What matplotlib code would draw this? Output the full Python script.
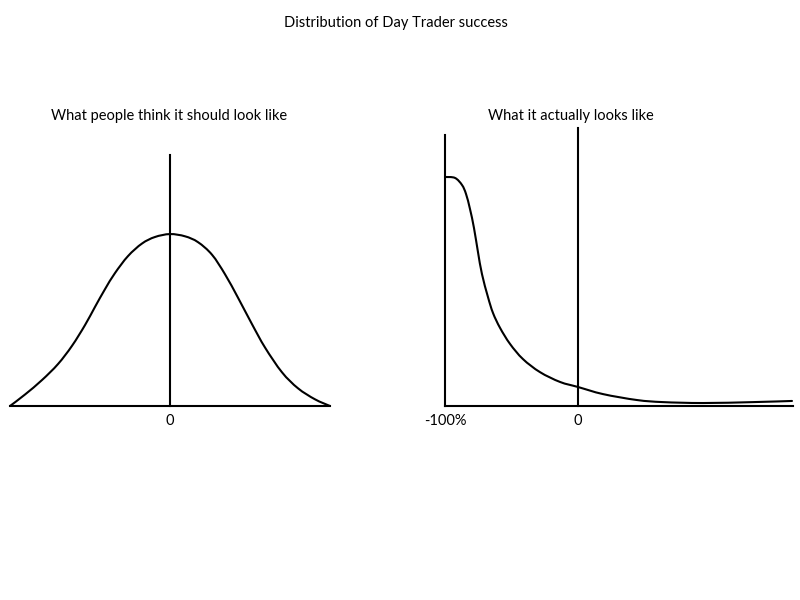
import matplotlib
matplotlib.use("Agg")
import matplotlib.pyplot as plt
from matplotlib.path import Path
from matplotlib.patches import PathPatch

plt.rcParams['font.family'] = ['Lato', 'DejaVu Sans']

# Left panel: "what people think" (normalised x from -1..1, height relative to peak)
left_x = [-1.0, -0.906, -0.8, -0.7, -0.6125, -0.531, -0.469, -0.406, -0.344, -0.2625,
          -0.175, -0.094, 0.0, 0.094, 0.175, 0.2625, 0.344, 0.425, 0.5125, 0.594,
          0.7, 0.8, 0.906, 1.0]
left_y = [0.0, 0.067, 0.151, 0.244, 0.350, 0.471, 0.576, 0.680, 0.773, 0.872,
          0.945, 0.983, 1.0, 0.987, 0.953, 0.880, 0.766, 0.630, 0.476, 0.340,
          0.196, 0.103, 0.039, 0.0]

# Right panel: "what it actually looks like" (x in % return, height relative to peak)
right_x = [-100.0, -92.5, -87.2, -84.2, -81.2, -78.2, -75.2, -72.2, -67.7, -63.9,
           -58.6, -51.1, -41.4, -28.6, -13.5, 0.0, 18.8, 44.4, 63.9, 94.0, 131.6, 160.9]
right_y = [1.000, 0.996, 0.965, 0.926, 0.860, 0.777, 0.672, 0.576, 0.476, 0.406,
           0.341, 0.271, 0.205, 0.148, 0.105, 0.083, 0.052, 0.026, 0.017, 0.013, 0.017, 0.022]

title = "Distribution of Day Trader success"
left_title = "What people think it should look like"
right_title = "What it actually looks like"

W, H = 800, 600
fig = plt.figure(figsize=(8, 6), dpi=100)
lw = 1.5


def smooth_curve(ax, xs, ys):
    """Draw a smooth curve through the data points (Catmull-Rom as cubic Beziers),
    computed in display space so it is smooth on screen."""
    pts = ax.transData.transform(list(zip(xs, ys)))
    n = len(pts)
    verts = [pts[0]]
    codes = [Path.MOVETO]
    for i in range(n - 1):
        p0 = pts[i - 1] if i > 0 else pts[i]
        p1 = pts[i]
        p2 = pts[i + 1]
        p3 = pts[i + 2] if i + 2 < n else pts[i + 1]
        c1 = p1 + (p2 - p0) / 6.0
        c2 = p2 - (p3 - p1) / 6.0
        verts += [c1, c2, p2]
        codes += [Path.CURVE4] * 3
    verts = ax.transData.inverted().transform(verts)
    patch = PathPatch(Path(verts, codes), facecolor='none', edgecolor='black',
                      lw=lw, clip_on=False, capstyle='round', joinstyle='round')
    ax.add_patch(patch)


def frac_box(x0, x1, ytop, ybot):
    return [x0 / W, (H - ybot) / H, (x1 - x0) / W, (ybot - ytop) / H]


# Left axes
ax1 = fig.add_axes(frac_box(10, 330, 155, 406))
ax1.set_xlim(-1, 1)
ax1.set_ylim(0, 1.46)
smooth_curve(ax1, left_x, left_y)
ax1.axvline(0, color='black', lw=lw, clip_on=False)
for s in ['top', 'right', 'left']:
    ax1.spines[s].set_visible(False)
ax1.spines['bottom'].set_linewidth(lw)
ax1.set_yticks([])
ax1.set_xticks([0])
ax1.set_xticklabels(['0'])
ax1.tick_params(axis='x', length=0, pad=6, labelsize=10.5)
ax1.patch.set_alpha(0)

# Right axes
ax2 = fig.add_axes(frac_box(445, 793, 128, 406))
ax2.set_xlim(-100, (793 - 578) / 1.33)
ax2.set_ylim(0, (406 - 128) / 229)
smooth_curve(ax2, right_x, right_y)
ax2.axvline(0, color='black', lw=lw, clip_on=False)
ax2.axvline(-100, ymax=(406 - 135) / (406 - 128), color='black', lw=lw, clip_on=False)
for s in ['top', 'right', 'left']:
    ax2.spines[s].set_visible(False)
ax2.spines['bottom'].set_linewidth(lw)
ax2.set_yticks([])
ax2.set_xticks([-100, 0])
ax2.set_xticklabels(['-100%', '0'])
ax2.tick_params(axis='x', length=0, pad=6, labelsize=10.5)
ax2.patch.set_alpha(0)

fig.text(396 / W, 1 - 23 / H, title, ha='center', va='center', fontsize=10.5)
fig.text(169 / W, 1 - 116 / H, left_title, ha='center', va='center', fontsize=10.5)
fig.text(571 / W, 1 - 116 / H, right_title, ha='center', va='center', fontsize=10.5)

fig.savefig('out.png', dpi=100)
